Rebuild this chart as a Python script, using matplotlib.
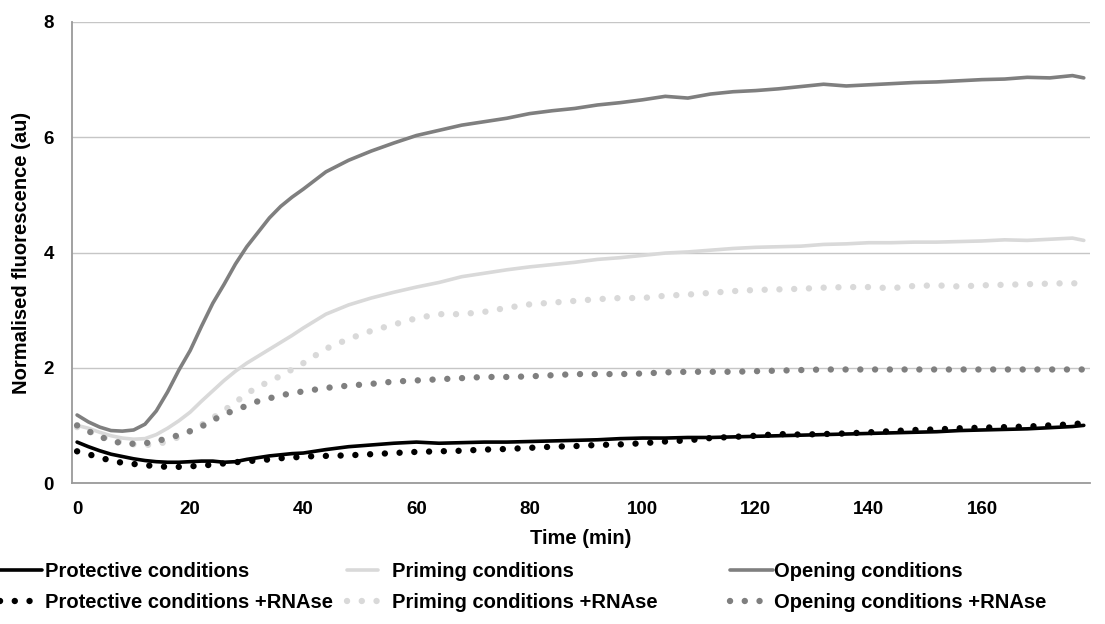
import matplotlib
matplotlib.use("Agg")
import matplotlib.pyplot as plt

plt.rcParams["font.family"] = ["Liberation Sans", "DejaVu Sans"]
plt.rcParams["font.weight"] = "bold"

# sampling times (min)
TIME = [0, 2, 4, 6, 8, 10, 12, 14, 16, 18, 20, 22, 24, 26, 28, 30, 32, 34, 36, 38, 40,
        44, 48, 52, 56, 60, 64, 68, 72, 76, 80, 84, 88, 92, 96, 100, 104, 108, 112, 116,
        120, 124, 128, 132, 136, 140, 144, 148, 152, 156, 160, 164, 168, 172, 176, 178]

PROTECTIVE = [0.71, 0.63, 0.56, 0.50, 0.46, 0.42, 0.39, 0.37, 0.36, 0.36, 0.37, 0.38, 0.38, 0.36,
              0.37, 0.41, 0.44, 0.47, 0.49, 0.51, 0.52, 0.58, 0.63, 0.66, 0.69, 0.71, 0.69, 0.70,
              0.71, 0.71, 0.72, 0.73, 0.74, 0.75, 0.77, 0.78, 0.78, 0.79, 0.79, 0.80, 0.81, 0.82,
              0.83, 0.84, 0.85, 0.86, 0.87, 0.88, 0.89, 0.91, 0.92, 0.93, 0.94, 0.96, 0.98, 1.00]

PRIMING = [1.00, 0.95, 0.88, 0.82, 0.78, 0.76, 0.77, 0.84, 0.95, 1.08, 1.23, 1.42, 1.60, 1.78,
           1.94, 2.08, 2.20, 2.32, 2.44, 2.56, 2.69, 2.93, 3.09, 3.21, 3.31, 3.40, 3.48, 3.58,
           3.64, 3.70, 3.75, 3.79, 3.83, 3.88, 3.91, 3.95, 3.99, 4.01, 4.04, 4.07, 4.09, 4.10,
           4.11, 4.14, 4.15, 4.17, 4.17, 4.18, 4.18, 4.19, 4.20, 4.22, 4.21, 4.23, 4.25, 4.21]

OPENING = [1.18, 1.06, 0.97, 0.91, 0.90, 0.92, 1.02, 1.25, 1.58, 1.96, 2.30, 2.72, 3.12, 3.45,
           3.80, 4.10, 4.35, 4.60, 4.80, 4.96, 5.10, 5.40, 5.60, 5.76, 5.90, 6.03, 6.12, 6.21,
           6.27, 6.33, 6.41, 6.46, 6.50, 6.56, 6.60, 6.65, 6.71, 6.68, 6.75, 6.79, 6.81, 6.84,
           6.88, 6.92, 6.89, 6.91, 6.93, 6.95, 6.96, 6.98, 7.00, 7.01, 7.04, 7.03, 7.07, 7.03]

PROTECTIVE_RNASE = [0.55, 0.50, 0.44, 0.39, 0.35, 0.33, 0.31, 0.29, 0.28, 0.28, 0.29, 0.30, 0.32,
                    0.34, 0.36, 0.38, 0.39, 0.41, 0.43, 0.44, 0.46, 0.47, 0.48, 0.50, 0.52, 0.54,
                    0.55, 0.56, 0.58, 0.59, 0.61, 0.63, 0.64, 0.66, 0.67, 0.69, 0.72, 0.74, 0.78,
                    0.80, 0.82, 0.85, 0.84, 0.85, 0.86, 0.88, 0.90, 0.92, 0.93, 0.95, 0.96, 0.97,
                    0.98, 1.00, 1.02, 1.04]

PRIMING_RNASE = [0.97, 0.90, 0.82, 0.75, 0.70, 0.67, 0.66, 0.67, 0.72, 0.80, 0.90, 1.01, 1.13,
                 1.26, 1.40, 1.55, 1.67, 1.76, 1.86, 1.97, 2.08, 2.33, 2.50, 2.64, 2.75, 2.86,
                 2.93, 2.93, 2.97, 3.04, 3.10, 3.13, 3.16, 3.19, 3.21, 3.21, 3.25, 3.27, 3.30,
                 3.33, 3.35, 3.36, 3.37, 3.39, 3.40, 3.40, 3.38, 3.42, 3.43, 3.41, 3.43, 3.44,
                 3.45, 3.46, 3.47, 3.44]

OPENING_RNASE = [1.00, 0.90, 0.81, 0.73, 0.69, 0.68, 0.69, 0.72, 0.78, 0.83, 0.90, 0.98, 1.09,
                 1.19, 1.27, 1.34, 1.42, 1.47, 1.52, 1.56, 1.59, 1.65, 1.69, 1.72, 1.76, 1.78,
                 1.80, 1.82, 1.84, 1.84, 1.85, 1.87, 1.89, 1.89, 1.89, 1.90, 1.92, 1.93, 1.93,
                 1.93, 1.94, 1.95, 1.96, 1.97, 1.97, 1.97, 1.97, 1.97, 1.97, 1.97, 1.97, 1.97,
                 1.97, 1.97, 1.97, 1.97]

BLACK = "#000000"
LIGHT = "#d9d9d9"
MID = "#7f7f7f"
DOTS = (0, (0.01, 2.3))

fig = plt.figure(figsize=(11.05, 6.24), dpi=100)
ax = fig.add_axes([72 / 1105, 1 - 483 / 624, 1018 / 1105, 461 / 624])

solid_kw = dict(linewidth=2.6, solid_capstyle="round")
dot_kw = dict(linewidth=4.6, linestyle=DOTS, dash_capstyle="round")

l1, = ax.plot(TIME, PROTECTIVE, color=BLACK, label="Protective conditions", **solid_kw)
l2, = ax.plot(TIME, PRIMING, color=LIGHT, label="Priming conditions", **solid_kw)
l3, = ax.plot(TIME, OPENING, color=MID, label="Opening conditions", **solid_kw)
l4, = ax.plot(TIME, PROTECTIVE_RNASE, color=BLACK, label="Protective conditions +RNAse", **dot_kw)
l5, = ax.plot(TIME, PRIMING_RNASE, color=LIGHT, label="Priming conditions +RNAse", **dot_kw)
l6, = ax.plot(TIME, OPENING_RNASE, color=MID, label="Opening conditions +RNAse", **dot_kw)

ax.set_xlim(-0.9, 179.1)
ax.set_ylim(0, 8)
ax.set_xticks(range(0, 161, 20))
ax.set_yticks(range(0, 9, 2))
ax.tick_params(length=0, labelsize=13.5, pad=13)
for lab in ax.get_xticklabels() + ax.get_yticklabels():
    lab.set_fontweight("bold")

ax.grid(axis="y", color="#c6c6c6", linewidth=1.0)
ax.set_axisbelow(True)
for side in ("top", "right"):
    ax.spines[side].set_visible(False)
for side in ("left", "bottom"):
    ax.spines[side].set_color("#9a9a9a")
    ax.spines[side].set_linewidth(1.3)

ax.set_xlabel("Time (min)", fontsize=14.5, fontweight="bold")
ax.set_ylabel("Normalised fluorescence (au)", fontsize=14.5, fontweight="bold")
ax.xaxis.set_label_coords(0.5, -0.10)
ax.yaxis.set_label_coords(-0.040, 0.5)

# legend: three columns, two rows
columns = [
    ((l1, l4), 0, 2.1, 0.15),
    ((l2, l5), 347, 1.55, 0.7),
    ((l3, l6), 730, 2.15, 0.05),
]
for handles, x0, hlen, hpad in columns:
    fig.legend(handles=list(handles), loc="upper left",
               bbox_to_anchor=(x0 / 1105, 1 - 562 / 624),
               frameon=False, handlelength=hlen,
               handletextpad=hpad, labelspacing=0.6, borderpad=0,
               borderaxespad=0, prop={"weight": "bold", "size": 14.5})

fig.savefig("out.png", dpi=100)
